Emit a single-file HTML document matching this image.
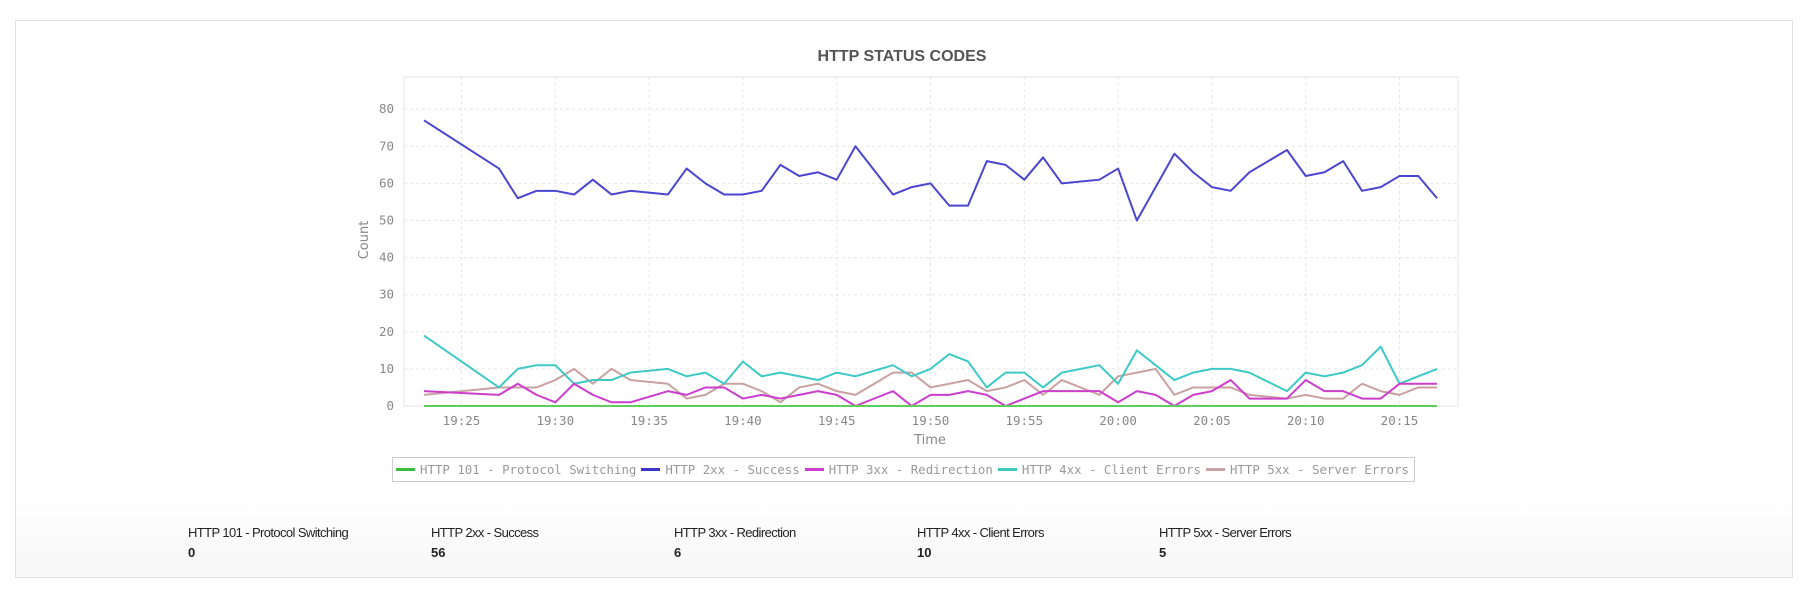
<!DOCTYPE html>
<html><head><meta charset="utf-8"><style>
html,body{margin:0;padding:0;background:#fff;width:1807px;height:594px;overflow:hidden;font-family:"Liberation Sans",sans-serif}
.panel{position:absolute;left:15px;top:20px;width:1776px;height:556px;border:1px solid #e2e2e2;background:linear-gradient(#fff 85%,#f7f7f7)}
.legend{position:absolute;left:392px;top:457px;width:1023px;height:25px;border:1px solid #ccc;box-sizing:border-box;background:#fff;display:flex;align-items:center;padding-left:3px;font-family:"DejaVu Sans Mono",monospace;font-size:12.4px;color:#999;white-space:nowrap}
.legend span.sw{display:inline-block;width:20px;height:3px;margin-right:5px}
.legend span.t{margin-right:5px}
.lab{position:absolute;top:525px;font-size:13px;letter-spacing:-0.6px;color:#222}
.lab b{display:block;margin-top:5px;letter-spacing:0;font-size:13px}
</style></head><body>
<div class="panel"></div>
<svg width="1807" height="594" style="position:absolute;left:0;top:0">
<text x="902" y="61" text-anchor="middle" font-family="Liberation Sans" font-weight="bold" font-size="16" fill="#555">HTTP STATUS CODES</text>
<rect x="404" y="77" width="1054" height="329" fill="#fff" stroke="#e4e4e4"/>
<g stroke="#e6e6e6" stroke-dasharray="3,3" stroke-width="1">
<line x1="404" x2="1458" y1="368.9" y2="368.9"/><line x1="404" x2="1458" y1="331.8" y2="331.8"/><line x1="404" x2="1458" y1="294.7" y2="294.7"/><line x1="404" x2="1458" y1="257.6" y2="257.6"/><line x1="404" x2="1458" y1="220.5" y2="220.5"/><line x1="404" x2="1458" y1="183.4" y2="183.4"/><line x1="404" x2="1458" y1="146.3" y2="146.3"/><line x1="404" x2="1458" y1="109.2" y2="109.2"/>
<line y1="77" y2="406" x1="461.5" x2="461.5"/><line y1="77" y2="406" x1="555.3" x2="555.3"/><line y1="77" y2="406" x1="649.1" x2="649.1"/><line y1="77" y2="406" x1="742.9" x2="742.9"/><line y1="77" y2="406" x1="836.7" x2="836.7"/><line y1="77" y2="406" x1="930.5" x2="930.5"/><line y1="77" y2="406" x1="1024.3" x2="1024.3"/><line y1="77" y2="406" x1="1118.1" x2="1118.1"/><line y1="77" y2="406" x1="1211.9" x2="1211.9"/><line y1="77" y2="406" x1="1305.7" x2="1305.7"/><line y1="77" y2="406" x1="1399.5" x2="1399.5"/>
</g>
<g font-family="DejaVu Sans Mono,monospace" font-size="12.5" fill="#888" text-anchor="end">
<text x="394" y="410">0</text><text x="394" y="372.9">10</text><text x="394" y="335.8">20</text><text x="394" y="298.7">30</text><text x="394" y="261.6">40</text><text x="394" y="224.5">50</text><text x="394" y="187.4">60</text><text x="394" y="150.3">70</text><text x="394" y="113.2">80</text>
</g>
<g font-family="DejaVu Sans Mono,monospace" font-size="12.5" fill="#888" text-anchor="middle">
<text x="461.5" y="425">19:25</text><text x="555.3" y="425">19:30</text><text x="649.1" y="425">19:35</text><text x="742.9" y="425">19:40</text><text x="836.7" y="425">19:45</text><text x="930.5" y="425">19:50</text><text x="1024.3" y="425">19:55</text><text x="1118.1" y="425">20:00</text><text x="1211.9" y="425">20:05</text><text x="1305.7" y="425">20:10</text><text x="1399.5" y="425">20:15</text>
</g>
<text x="930" y="444" text-anchor="middle" font-family="DejaVu Sans,sans-serif" font-size="13" fill="#888">Time</text>
<text transform="translate(368,240) rotate(-90)" text-anchor="middle" font-family="DejaVu Sans,sans-serif" font-size="13" fill="#888">Count</text>
<g transform="translate(424,406) scale(18.76,-3.71)" fill="none" stroke-linejoin="round">
<polyline vector-effect="non-scaling-stroke" stroke="#c9a1a1" stroke-width="2" points="0,3 4,5 5,5 6,5 7,7 8,10 9,6 10,10 11,7 13,6 14,2 15,3 16,6 17,6 18,4 19,1 20,5 21,6 22,4 23,3 25,9 26,9 27,5 28,6 29,7 30,4 31,5 32,7 33,3 34,7 36,3 37,8 38,9 39,10 40,3 41,5 42,5 43,5 44,3 46,2 47,3 48,2 49,2 50,6 51,4 52,3 53,5 54,5"/>
<polyline vector-effect="non-scaling-stroke" stroke="#3ec9c4" stroke-width="2" points="0,19 4,5 5,10 6,11 7,11 8,6 9,7 10,7 11,9 13,10 14,8 15,9 16,6 17,12 18,8 19,9 21,7 22,9 23,8 25,11 26,8 27,10 28,14 29,12 30,5 31,9 32,9 33,5 34,9 36,11 37,6 38,15 40,7 41,9 42,10 43,10 44,9 46,4 47,9 48,8 49,9 50,11 51,16 52,6 53,8 54,10"/>
<polyline vector-effect="non-scaling-stroke" stroke="#cc3fcc" stroke-width="2" points="0,4 4,3 5,6 6,3 7,1 8,6 9,3 10,1 11,1 13,4 14,3 15,5 16,5 17,2 18,3 19,2 20,3 21,4 22,3 23,0 25,4 26,0 27,3 28,3 29,4 30,3 31,0 32,2 33,4 34,4 36,4 37,1 38,4 39,3 40,0 41,3 42,4 43,7 44,2 46,2 47,7 48,4 49,4 50,2 51,2 52,6 53,6 54,6"/>
<polyline vector-effect="non-scaling-stroke" stroke="#4a46cf" stroke-width="2" points="0,77 4,64 5,56 6,58 7,58 8,57 9,61 10,57 11,58 13,57 14,64 15,60 16,57 17,57 18,58 19,65 20,62 21,63 22,61 23,70 25,57 26,59 27,60 28,54 29,54 30,66 31,65 32,61 33,67 34,60 36,61 37,64 38,50 40,68 41,63 42,59 43,58 44,63 46,69 47,62 48,63 49,66 50,58 51,59 52,62 53,62 54,56"/>
<polyline vector-effect="non-scaling-stroke" stroke="#5ccf5c" stroke-width="2" points="0,0 54,0"/>
</g>
</svg>
<div class="legend">
<span class="sw" style="background:#3dbb3d"></span><span class="t">HTTP 101 - Protocol Switching</span>
<span class="sw" style="background:#3b36c8"></span><span class="t">HTTP 2xx - Success</span>
<span class="sw" style="background:#cc3fcc"></span><span class="t">HTTP 3xx - Redirection</span>
<span class="sw" style="background:#3ec9c4"></span><span class="t">HTTP 4xx - Client Errors</span>
<span class="sw" style="background:#c9a1a1"></span><span class="t">HTTP 5xx - Server Errors</span>
</div>
<div class="lab" style="left:188px">HTTP 101 - Protocol Switching<b>0</b></div>
<div class="lab" style="left:431px">HTTP 2xx - Success<b>56</b></div>
<div class="lab" style="left:674px">HTTP 3xx - Redirection<b>6</b></div>
<div class="lab" style="left:917px">HTTP 4xx - Client Errors<b>10</b></div>
<div class="lab" style="left:1159px">HTTP 5xx - Server Errors<b>5</b></div>
</body></html>
